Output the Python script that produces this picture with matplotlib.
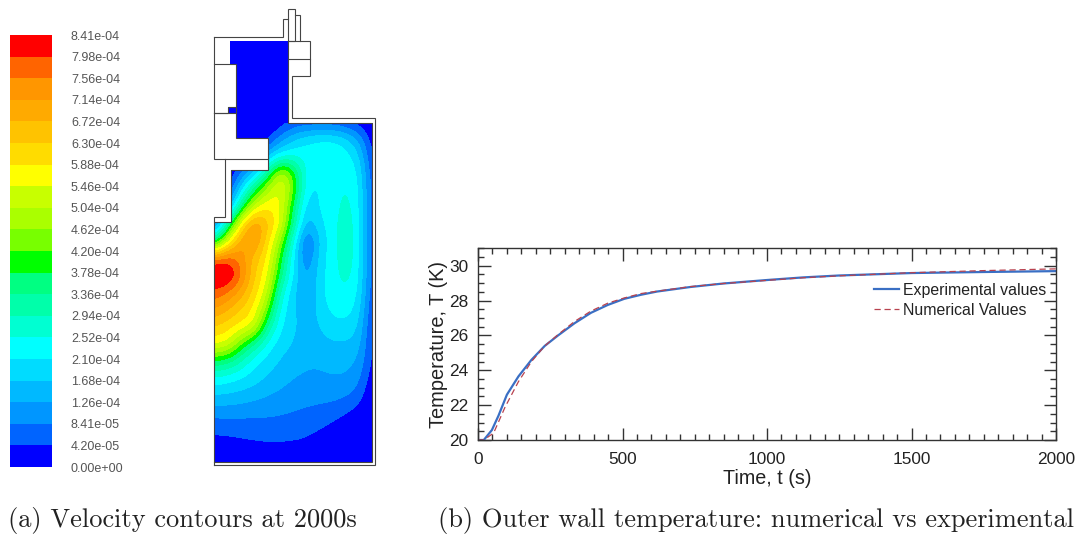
import numpy as np
import matplotlib
matplotlib.use('Agg')
import matplotlib.pyplot as plt
from matplotlib.colors import ListedColormap, BoundaryNorm
from matplotlib.patches import Rectangle
from matplotlib.ticker import MultipleLocator

W, H = 1078, 537

# right panel
time_exp = [0, 20, 48, 71, 100, 140, 185, 231, 277, 334, 391, 449, 506, 563, 620, 735, 849, 1000, 1125, 1250, 1500, 1750, 2000]
temp_exp = [20, 20, 20.57, 21.4, 22.6, 23.65, 24.6, 25.4, 26.0, 26.7, 27.3, 27.75, 28.1, 28.33, 28.52, 28.78, 28.98, 29.18, 29.33, 29.44, 29.58, 29.64, 29.69]
time_num = [0, 20, 54, 94, 140, 185, 231, 277, 334, 391, 449, 506, 563, 620, 735, 849, 1000, 1125, 1250, 1500, 1750, 2000]
temp_num = [20, 20, 20.4, 21.9, 23.35, 24.5, 25.4, 26.05, 26.8, 27.4, 27.85, 28.15, 28.4, 28.54, 28.8, 28.98, 29.16, 29.31, 29.42, 29.6, 29.72, 29.82]

# left panel colour bar
bar_labels = ['0.00e+00', '4.20e-05', '8.41e-05', '1.26e-04', '1.68e-04', '2.10e-04', '2.52e-04',
              '2.94e-04', '3.36e-04', '3.78e-04', '4.20e-04', '4.62e-04', '5.04e-04', '5.46e-04',
              '5.88e-04', '6.30e-04', '6.72e-04', '7.14e-04', '7.56e-04', '7.98e-04', '8.41e-04']
bar_colors = ['#0000ff', '#0064ff', '#0096ff', '#00b9ff', '#00dcff', '#00ffff', '#00ffd2', '#00ffaa',
              '#00ff82', '#00ff00', '#78ff00', '#aaff00', '#c8ff00', '#ffff00', '#ffdc00', '#ffc300',
              '#ffaa00', '#ff9600', '#ff6400', '#ff0000']

# velocity in colour bands, sampled every 13 px across and 17 px down the chamber
grid_x = np.arange(215, 372, 13)
grid_y = np.arange(123, 464, 17)
velocity_bands = np.array([
    [0, 0, 0, 0, 0, 0.3, 1, 1, 1, 1, 0.8, 0.3, 0],
    [0, 0, 0, 0, 0.5, 2.5, 4, 5, 5.4, 5.3, 4.6, 3, 0.3],
    [0, 0, 0, 0, 4, 5.6, 6, 5.5, 5.5, 5.8, 5.5, 4.5, 0.6],
    [0, 0, 2, 4.5, 8, 12.8, 10, 5.3, 5.2, 5.5, 5.8, 5.2, 1],
    [0, 0.5, 5, 9, 12, 13.5, 10.5, 4.8, 5, 5.6, 6.2, 5.4, 1.2],
    [0, 3, 8.5, 13, 14, 13.5, 8.7, 4, 5.2, 5.6, 6.4, 5.5, 1.2],
    [2, 8, 14.5, 17.5, 15.5, 13.2, 8, 3, 4.8, 5.6, 6.8, 5.5, 1.2],
    [8, 13.5, 17, 17.5, 14.5, 11, 6, 0.8, 4.2, 5.6, 7, 5.5, 1.2],
    [18.7, 18.9, 17.5, 15.5, 14, 9.5, 5, 1.5, 4.6, 5.6, 6.8, 5.5, 1.2],
    [20.5, 20.5, 18.4, 15, 13.3, 8.5, 4.8, 2.5, 4.6, 5.6, 6.5, 5.4, 1.2],
    [18.8, 18, 16.5, 14.5, 12.5, 6.5, 4.2, 2.5, 4.8, 5.6, 5.9, 5.2, 1],
    [17, 16, 15, 13.8, 10.5, 5.5, 4.2, 3, 4.5, 5.3, 5.5, 4.7, 0.8],
    [15, 14.4, 13.7, 13, 8, 5, 4.2, 3.5, 4, 4.7, 4.7, 4.2, 0.6],
    [13.5, 13, 10, 8, 5.6, 4.5, 4, 3.1, 3.7, 3.9, 3.9, 3.6, 0.6],
    [9, 8.5, 7, 5.3, 4.6, 3.9, 3.4, 3.1, 3, 3.2, 3.3, 3, 0.6],
    [5.8, 5.5, 5, 4.5, 3.9, 3.4, 3, 2.9, 3, 3, 3, 2.4, 0.3],
    [4, 3.9, 3.7, 3.4, 3.1, 2.8, 2.6, 2.5, 2.4, 2.4, 2.2, 1.6, 0],
    [2.5, 2.5, 2.4, 2.3, 2.2, 2.1, 2, 1.8, 1.7, 1.5, 1.1, 0.6, 0],
    [1.2, 1.3, 1.4, 1.5, 1.6, 1.6, 1.5, 1.3, 1.1, 0.7, 0.3, 0, 0],
    [0.6, 0.6, 0.7, 0.8, 0.85, 0.85, 0.8, 0.75, 0.3, 0, 0, 0, 0],
    [0, 0, 0, 0, 0, 0, 0, 0, 0, 0, 0, 0, 0],
])

# geometry of the vessel, in picture pixels
upper_x = [230, 230, 235.7, 235.7, 227.7, 227.7, 235.7, 235.7, 268, 268, 288.3, 288.3]
upper_y = [41, 64, 64, 106.7, 106.7, 112.7, 112.7, 138.3, 138.3, 123, 123, 41]
solid_x = [215, 268, 268, 231.3, 231.3, 215]
solid_y = [123, 123, 170, 170, 222.3, 222.3]
outlines = [
    ([214.3, 283.3, 283.3, 288.3], [36.7, 36.7, 19.3, 19.3]),
    ([288.3, 288.3, 295.3, 295.3, 288.3], [41, 9.3, 9.3, 41, 41]),
    ([295.3, 300, 300], [15.3, 15.3, 41]),
    ([288.3, 309.7, 309.7, 291.7, 291.7, 375.3, 375.3, 214.3], [41, 41, 76.3, 76.3, 118.3, 118.3, 465, 465]),
    ([288.3, 288.3, 372, 372, 214.3], [41, 122.7, 122.7, 462.3, 462.3]),
    ([288.3, 309.7], [59, 59]),
    ([214.3, 214.3, 268, 268, 235.7, 235.7, 214.3], [36.7, 159.3, 159.3, 138.3, 138.3, 64, 64]),
    ([214.3, 227.7, 227.7, 235.7], [112.7, 112.7, 106.7, 106.7]),
    ([214.3, 235.7], [112.7, 112.7]),
    ([225.3, 225.3, 214.3, 214.3, 231.3, 231.3, 268, 268], [159.3, 216.7, 216.7, 222.3, 222.3, 170, 170, 159.3]),
    ([214.3, 214.3], [222.3, 465]),
]

plt.rcParams['font.family'] = ['Liberation Sans', 'DejaVu Sans']
fig = plt.figure(figsize=(W / 100, H / 100), dpi=100)


def px_axes(left, top, right, bottom):
    return fig.add_axes([left / W, 1 - bottom / H, (right - left) / W, (bottom - top) / H])


# contour panel
ax_px = fig.add_axes([0, 0, 1, 1])
cmap = ListedColormap(bar_colors)
norm = BoundaryNorm(np.arange(21), cmap.N, clip=True)
im = ax_px.imshow(velocity_bands, cmap=cmap, norm=norm, aspect='auto', origin='upper',
                  interpolation='bicubic', interpolation_stage='data',
                  extent=(grid_x[0] - 6.5, grid_x[-1] + 6.5, grid_y[-1] + 8.5, grid_y[0] - 8.5))
im.set_clip_path(Rectangle((214.5, 122.7), 157.5, 339.6, transform=ax_px.transData))
ax_px.fill(solid_x, solid_y, color='white', lw=0)
ax_px.fill(upper_x, upper_y, color=bar_colors[0], lw=0)
for xs, ys in outlines:
    ax_px.plot(xs, ys, color='#444444', lw=0.8, solid_joinstyle='miter')
ax_px.set_xlim(0, W)
ax_px.set_ylim(H, 0)
ax_px.axis('off')

ax_px.text(8, 527, '(a) Velocity contours at 2000s', family='cmr10', fontsize=19, color='#222222')
ax_px.text(438, 527, '(b) Outer wall temperature: numerical vs experimental', family='cmr10', fontsize=19,
           color='#222222')

# colour bar
ax_bar = px_axes(10, 35, 51.5, 467)
ax_bar.bar(np.zeros(20), np.ones(20), bottom=np.arange(20), width=1, color=bar_colors)
ax_bar.set_xlim(-0.5, 0.5)
ax_bar.set_ylim(0, 20)
ax_bar.set_xticks([])
ax_bar.yaxis.tick_right()
ax_bar.set_yticks(np.arange(21))
ax_bar.set_yticklabels(bar_labels, fontsize=9, color='#555555')
ax_bar.tick_params(axis='y', length=0, pad=14)
for s in ax_bar.spines.values():
    s.set_visible(False)

# temperature panel
ax = px_axes(478, 248.3, 1056, 440)
ax.plot(time_exp, temp_exp, color='#3a6fc4', lw=1.6, label='Experimental values')
ax.plot(time_num, temp_num, color='#b8424f', lw=0.9, ls=(0, (5, 3)), label='Numerical Values')
ax.set_xlim(0, 2000)
ax.set_ylim(20, 31)
ax.xaxis.set_major_locator(MultipleLocator(500))
ax.xaxis.set_minor_locator(MultipleLocator(50))
ax.yaxis.set_major_locator(MultipleLocator(2))
ax.yaxis.set_minor_locator(MultipleLocator(0.5))
ax.tick_params(which='major', direction='in', length=9, width=1, top=True, right=True,
               labelsize=12.4, pad=7, color='#333333', labelcolor='#222222')
ax.tick_params(axis='x', which='major', pad=8.5)
ax.tick_params(which='minor', direction='in', length=4.5, width=1, top=True, right=True, color='#333333')
for s in ax.spines.values():
    s.set_linewidth(1)
    s.set_color('#333333')
ax.set_xlabel('Time, t (s)', fontsize=14.2, color='#222222', labelpad=1.5)
ax.set_ylabel('Temperature, T (K)', fontsize=14.4, color='#222222', labelpad=0.5)
ax.legend(loc='upper right', bbox_to_anchor=(0.983, 0.82), frameon=False, fontsize=11.4, handlelength=1.6,
          handletextpad=0.25, labelspacing=0.32, borderpad=0, borderaxespad=0, labelcolor='#222222')

fig.savefig('out.png', dpi=100)
